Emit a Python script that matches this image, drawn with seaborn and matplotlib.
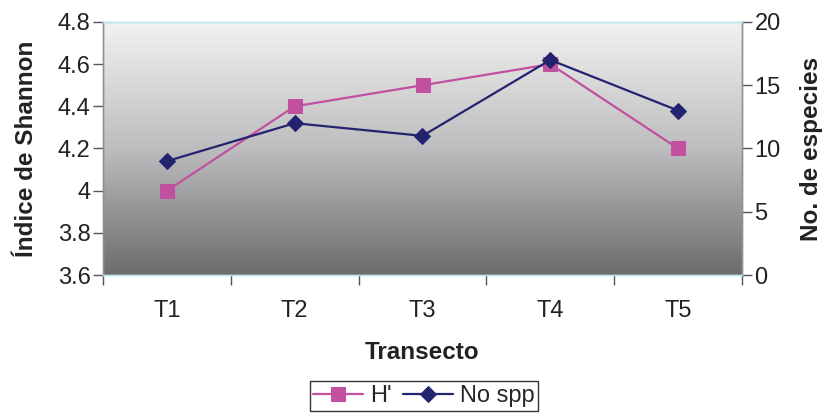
import numpy as np
import seaborn as sns
import matplotlib
matplotlib.use("Agg")
import matplotlib.pyplot as plt
from matplotlib.colors import LinearSegmentedColormap

# data
transectos = ["T1", "T2", "T3", "T4", "T5"]
shannon = [4.0, 4.4, 4.5, 4.6, 4.2]
no_spp = [9, 12, 11, 17, 13]

sns.set_style("white")
plt.rcParams["font.family"] = ["Liberation Sans", "DejaVu Sans"]

pink = "#c1509f"
navy = "#23236f"

fig = plt.figure(figsize=(8.27, 4.16), dpi=100)
ax = fig.add_axes([103 / 827, 1 - 275 / 416, 639 / 827, 253 / 416])
ax2 = ax.twinx()

# gradient background
grad = LinearSegmentedColormap.from_list("g", ["#f2f2f2", "#bdbdbf", "#6c6c6e"])
ax.imshow(np.linspace(0, 1, 256).reshape(-1, 1), aspect="auto", cmap=grad,
          extent=[0, 1, 0, 1], transform=ax.transAxes, zorder=0)

pos = np.arange(len(transectos))
sns.lineplot(x=pos, y=shannon, ax=ax, color=pink, marker="s", markersize=10.5,
             markeredgecolor=pink, linewidth=1.6, label="H'", legend=False, zorder=3)
sns.lineplot(x=pos, y=no_spp, ax=ax2, color=navy, marker="D", markersize=8,
             markeredgecolor=navy, linewidth=1.6, label="No spp", legend=False, zorder=3)

ax.set_xlim(-0.5, len(transectos) - 0.5)
ax.set_ylim(3.6, 4.8)
ax.set_yticks([3.6, 3.8, 4.0, 4.2, 4.4, 4.6, 4.8])
ax.set_yticklabels(["3.6", "3.8", "4", "4.2", "4.4", "4.6", "4.8"])
ax2.set_ylim(0, 20)
ax2.set_yticks([0, 5, 10, 15, 20])

fs = 17
ax.set_xticks(pos)
ax.set_xticklabels(transectos)
ax.set_xticks(np.arange(-0.5, len(transectos)), minor=True)
ax.tick_params(axis="x", which="major", length=0, pad=18, labelsize=fs, colors="#222222")
ax.tick_params(axis="x", which="minor", length=7, width=1, color="#555555", direction="out", bottom=True)
ax.tick_params(axis="y", length=7, width=1, color="#555555", direction="out", left=True,
               labelsize=fs, labelcolor="#222222", pad=2)
ax2.tick_params(axis="y", length=7, width=1, color="#555555", direction="out", right=True,
                labelsize=fs, labelcolor="#222222", pad=2)

for a in (ax, ax2):
    a.spines["left"].set_color("#8a9496")
    a.spines["right"].set_color("#8a9496")
    a.spines["top"].set_color("#bfe3ee")
    a.spines["bottom"].set_color("#bfe3ee")
    for s in a.spines.values():
        s.set_linewidth(1)

ax.set_xlabel("Transecto", fontsize=17.5, fontweight="bold", labelpad=14, color="#222222")
ax.set_ylabel("Índice de Shannon", fontsize=17.5, fontweight="bold", labelpad=14, color="#222222")
ax2.set_ylabel("No. de especies", fontsize=17.5, fontweight="bold", labelpad=14, color="#222222")

h1, l1 = ax.get_legend_handles_labels()
h2, l2 = ax2.get_legend_handles_labels()
leg = fig.legend(h1 + h2, l1 + l2, loc="center", bbox_to_anchor=(424 / 827, 1 - 396 / 416),
                 ncol=2, fontsize=fs, frameon=True, fancybox=False, edgecolor="black",
                 handlelength=2.1, columnspacing=0.5, handletextpad=0.3, borderpad=0.15,
                 borderaxespad=0)
leg.get_frame().set_linewidth(1)

fig.savefig("out.png", dpi=100)
